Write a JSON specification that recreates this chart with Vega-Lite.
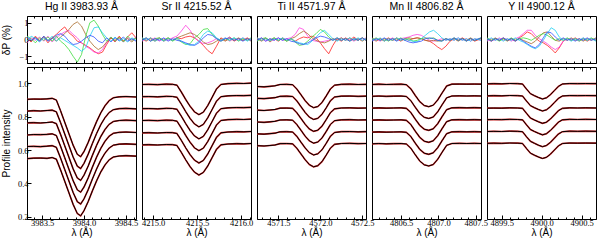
{
"$schema": "https://vega.github.io/schema/vega-lite/v6.json",
"padding": {"left": 1, "top": 1, "right": 0, "bottom": 0},
"background": "white",
"config": {
  "font": "Liberation Sans",
  "view": {"stroke": "black", "strokeWidth": 1},
  "axis": {"domainColor": "black", "tickColor": "black", "labelColor": "black", "titleColor": "black", "tickSize": -4, "labelFontSize": 8.5, "labelFont": "Liberation Sans Narrow", "titleFontSize": 10, "titleFontWeight": "normal", "grid": false, "labelPadding": 3, "labelFlush": false, "labelOverlap": false, "titlePadding": 1},
  "header": {"labelFontSize": 10.5, "labelColor": "black", "labelFont": "Liberation Sans", "labelPadding": 4}
},
"datasets": {
"prof": [
{"n":"Hg","x":3983.32,"a":0.904,"b":0.833,"c":0.763,"d":0.690,"f":0.621,"g":0.548},
{"n":"Hg","x":3983.40,"a":0.906,"b":0.836,"c":0.764,"d":0.693,"f":0.622,"g":0.551},
{"n":"Hg","x":3983.48,"a":0.905,"b":0.834,"c":0.762,"d":0.692,"f":0.620,"g":0.552},
{"n":"Hg","x":3983.56,"a":0.907,"b":0.837,"c":0.765,"d":0.694,"f":0.623,"g":0.550},
{"n":"Hg","x":3983.62,"a":0.910,"b":0.839,"c":0.768,"d":0.697,"f":0.626,"g":0.555},
{"n":"Hg","x":3983.67,"a":0.900,"b":0.829,"c":0.758,"d":0.687,"f":0.616,"g":0.545},
{"n":"Hg","x":3983.72,"a":0.836,"b":0.765,"c":0.694,"d":0.623,"f":0.552,"g":0.481},
{"n":"Hg","x":3983.77,"a":0.767,"b":0.696,"c":0.625,"d":0.554,"f":0.483,"g":0.412},
{"n":"Hg","x":3983.82,"a":0.698,"b":0.627,"c":0.556,"d":0.485,"f":0.414,"g":0.343},
{"n":"Hg","x":3983.87,"a":0.629,"b":0.558,"c":0.487,"d":0.416,"f":0.345,"g":0.274},
{"n":"Hg","x":3983.92,"a":0.574,"b":0.503,"c":0.432,"d":0.361,"f":0.290,"g":0.219},
{"n":"Hg","x":3983.96,"a":0.560,"b":0.489,"c":0.418,"d":0.347,"f":0.276,"g":0.205},
{"n":"Hg","x":3984.00,"a":0.591,"b":0.520,"c":0.449,"d":0.378,"f":0.307,"g":0.236},
{"n":"Hg","x":3984.05,"a":0.646,"b":0.575,"c":0.504,"d":0.433,"f":0.362,"g":0.291},
{"n":"Hg","x":3984.10,"a":0.710,"b":0.639,"c":0.568,"d":0.497,"f":0.426,"g":0.355},
{"n":"Hg","x":3984.15,"a":0.770,"b":0.699,"c":0.628,"d":0.557,"f":0.486,"g":0.415},
{"n":"Hg","x":3984.20,"a":0.823,"b":0.752,"c":0.681,"d":0.610,"f":0.539,"g":0.468},
{"n":"Hg","x":3984.25,"a":0.865,"b":0.794,"c":0.723,"d":0.652,"f":0.581,"g":0.510},
{"n":"Hg","x":3984.30,"a":0.896,"b":0.825,"c":0.754,"d":0.683,"f":0.612,"g":0.541},
{"n":"Hg","x":3984.35,"a":0.913,"b":0.842,"c":0.771,"d":0.700,"f":0.629,"g":0.558},
{"n":"Hg","x":3984.42,"a":0.919,"b":0.848,"c":0.777,"d":0.706,"f":0.635,"g":0.564},
{"n":"Hg","x":3984.50,"a":0.921,"b":0.850,"c":0.779,"d":0.708,"f":0.637,"g":0.566},
{"n":"Hg","x":3984.62,"a":0.918,"b":0.847,"c":0.776,"d":0.705,"f":0.634,"g":0.563},
{"n":"Sr","x":4214.873,"a":0.993,"b":0.920,"c":0.848,"d":0.777,"f":0.703,"g":0.631},
{"n":"Sr","x":4214.95,"a":0.994,"b":0.921,"c":0.849,"d":0.778,"f":0.704,"g":0.632},
{"n":"Sr","x":4215.05,"a":0.992,"b":0.919,"c":0.847,"d":0.776,"f":0.702,"g":0.630},
{"n":"Sr","x":4215.15,"a":0.995,"b":0.922,"c":0.850,"d":0.779,"f":0.705,"g":0.633},
{"n":"Sr","x":4215.22,"a":0.994,"b":0.921,"c":0.849,"d":0.778,"f":0.704,"g":0.632},
{"n":"Sr","x":4215.27,"a":0.989,"b":0.916,"c":0.844,"d":0.773,"f":0.699,"g":0.627},
{"n":"Sr","x":4215.32,"a":0.948,"b":0.875,"c":0.803,"d":0.732,"f":0.658,"g":0.586},
{"n":"Sr","x":4215.37,"a":0.903,"b":0.830,"c":0.758,"d":0.687,"f":0.613,"g":0.541},
{"n":"Sr","x":4215.42,"a":0.862,"b":0.789,"c":0.717,"d":0.646,"f":0.572,"g":0.500},
{"n":"Sr","x":4215.47,"a":0.829,"b":0.756,"c":0.684,"d":0.613,"f":0.539,"g":0.467},
{"n":"Sr","x":4215.52,"a":0.812,"b":0.739,"c":0.667,"d":0.596,"f":0.522,"g":0.450},
{"n":"Sr","x":4215.57,"a":0.827,"b":0.754,"c":0.682,"d":0.611,"f":0.537,"g":0.465},
{"n":"Sr","x":4215.62,"a":0.866,"b":0.793,"c":0.721,"d":0.650,"f":0.576,"g":0.504},
{"n":"Sr","x":4215.67,"a":0.916,"b":0.843,"c":0.771,"d":0.700,"f":0.626,"g":0.554},
{"n":"Sr","x":4215.72,"a":0.966,"b":0.893,"c":0.821,"d":0.750,"f":0.676,"g":0.604},
{"n":"Sr","x":4215.77,"a":0.993,"b":0.920,"c":0.848,"d":0.777,"f":0.703,"g":0.631},
{"n":"Sr","x":4215.85,"a":0.998,"b":0.925,"c":0.853,"d":0.782,"f":0.708,"g":0.636},
{"n":"Sr","x":4215.95,"a":1.000,"b":0.927,"c":0.855,"d":0.784,"f":0.710,"g":0.638},
{"n":"Sr","x":4216.03,"a":0.999,"b":0.926,"c":0.854,"d":0.783,"f":0.709,"g":0.637},
{"n":"Sr","x":4216.112,"a":1.001,"b":0.928,"c":0.856,"d":0.785,"f":0.711,"g":0.639},
{"n":"Ti","x":4571.246,"a":0.981,"b":0.910,"c":0.839,"d":0.768,"f":0.697,"g":0.626},
{"n":"Ti","x":4571.33,"a":0.979,"b":0.908,"c":0.837,"d":0.766,"f":0.695,"g":0.624},
{"n":"Ti","x":4571.40,"a":0.982,"b":0.911,"c":0.840,"d":0.769,"f":0.698,"g":0.627},
{"n":"Ti","x":4571.46,"a":0.985,"b":0.914,"c":0.843,"d":0.772,"f":0.701,"g":0.630},
{"n":"Ti","x":4571.52,"a":0.993,"b":0.922,"c":0.851,"d":0.780,"f":0.709,"g":0.638},
{"n":"Ti","x":4571.60,"a":0.994,"b":0.923,"c":0.852,"d":0.781,"f":0.710,"g":0.639},
{"n":"Ti","x":4571.67,"a":0.992,"b":0.921,"c":0.850,"d":0.779,"f":0.708,"g":0.637},
{"n":"Ti","x":4571.72,"a":0.966,"b":0.895,"c":0.824,"d":0.753,"f":0.682,"g":0.611},
{"n":"Ti","x":4571.77,"a":0.931,"b":0.860,"c":0.789,"d":0.718,"f":0.647,"g":0.576},
{"n":"Ti","x":4571.82,"a":0.896,"b":0.825,"c":0.754,"d":0.683,"f":0.612,"g":0.541},
{"n":"Ti","x":4571.87,"a":0.868,"b":0.797,"c":0.726,"d":0.655,"f":0.584,"g":0.513},
{"n":"Ti","x":4571.92,"a":0.854,"b":0.783,"c":0.712,"d":0.641,"f":0.570,"g":0.499},
{"n":"Ti","x":4571.97,"a":0.861,"b":0.790,"c":0.719,"d":0.648,"f":0.577,"g":0.506},
{"n":"Ti","x":4572.02,"a":0.885,"b":0.814,"c":0.743,"d":0.672,"f":0.601,"g":0.530},
{"n":"Ti","x":4572.07,"a":0.924,"b":0.853,"c":0.782,"d":0.711,"f":0.640,"g":0.569},
{"n":"Ti","x":4572.12,"a":0.966,"b":0.895,"c":0.824,"d":0.753,"f":0.682,"g":0.611},
{"n":"Ti","x":4572.17,"a":0.989,"b":0.918,"c":0.847,"d":0.776,"f":0.705,"g":0.634},
{"n":"Ti","x":4572.25,"a":0.994,"b":0.923,"c":0.852,"d":0.781,"f":0.710,"g":0.639},
{"n":"Ti","x":4572.35,"a":0.995,"b":0.924,"c":0.853,"d":0.782,"f":0.711,"g":0.640},
{"n":"Ti","x":4572.45,"a":0.993,"b":0.922,"c":0.851,"d":0.780,"f":0.709,"g":0.638},
{"n":"Ti","x":4572.544,"a":0.994,"b":0.923,"c":0.852,"d":0.781,"f":0.710,"g":0.639},
{"n":"Mn","x":4806.11,"a":0.993,"b":0.922,"c":0.851,"d":0.779,"f":0.707,"g":0.637},
{"n":"Mn","x":4806.20,"a":0.995,"b":0.924,"c":0.853,"d":0.781,"f":0.709,"g":0.639},
{"n":"Mn","x":4806.30,"a":0.993,"b":0.922,"c":0.851,"d":0.779,"f":0.707,"g":0.637},
{"n":"Mn","x":4806.40,"a":0.994,"b":0.923,"c":0.852,"d":0.780,"f":0.708,"g":0.638},
{"n":"Mn","x":4806.50,"a":0.995,"b":0.924,"c":0.853,"d":0.781,"f":0.709,"g":0.639},
{"n":"Mn","x":4806.57,"a":0.992,"b":0.921,"c":0.850,"d":0.778,"f":0.706,"g":0.636},
{"n":"Mn","x":4806.63,"a":0.967,"b":0.896,"c":0.825,"d":0.753,"f":0.681,"g":0.611},
{"n":"Mn","x":4806.69,"a":0.927,"b":0.856,"c":0.785,"d":0.713,"f":0.641,"g":0.571},
{"n":"Mn","x":4806.75,"a":0.890,"b":0.819,"c":0.748,"d":0.676,"f":0.604,"g":0.534},
{"n":"Mn","x":4806.81,"a":0.867,"b":0.796,"c":0.725,"d":0.653,"f":0.581,"g":0.511},
{"n":"Mn","x":4806.87,"a":0.860,"b":0.789,"c":0.718,"d":0.646,"f":0.574,"g":0.504},
{"n":"Mn","x":4806.93,"a":0.869,"b":0.798,"c":0.727,"d":0.655,"f":0.583,"g":0.513},
{"n":"Mn","x":4806.99,"a":0.900,"b":0.829,"c":0.758,"d":0.686,"f":0.614,"g":0.544},
{"n":"Mn","x":4807.05,"a":0.943,"b":0.872,"c":0.801,"d":0.729,"f":0.657,"g":0.587},
{"n":"Mn","x":4807.11,"a":0.984,"b":0.913,"c":0.842,"d":0.770,"f":0.698,"g":0.628},
{"n":"Mn","x":4807.18,"a":0.995,"b":0.924,"c":0.853,"d":0.781,"f":0.709,"g":0.639},
{"n":"Mn","x":4807.28,"a":0.996,"b":0.925,"c":0.854,"d":0.782,"f":0.710,"g":0.640},
{"n":"Mn","x":4807.38,"a":0.995,"b":0.924,"c":0.853,"d":0.781,"f":0.709,"g":0.639},
{"n":"Mn","x":4807.48,"a":0.996,"b":0.925,"c":0.854,"d":0.782,"f":0.710,"g":0.640},
{"n":"Mn","x":4807.57,"a":0.995,"b":0.924,"c":0.853,"d":0.781,"f":0.709,"g":0.639},
{"n":"Y","x":4899.316,"a":0.997,"b":0.925,"c":0.851,"d":0.782,"f":0.711,"g":0.640},
{"n":"Y","x":4899.40,"a":0.998,"b":0.926,"c":0.852,"d":0.783,"f":0.712,"g":0.641},
{"n":"Y","x":4899.50,"a":0.997,"b":0.925,"c":0.851,"d":0.782,"f":0.711,"g":0.640},
{"n":"Y","x":4899.60,"a":0.999,"b":0.927,"c":0.853,"d":0.784,"f":0.713,"g":0.642},
{"n":"Y","x":4899.70,"a":0.998,"b":0.926,"c":0.852,"d":0.783,"f":0.712,"g":0.641},
{"n":"Y","x":4899.76,"a":0.996,"b":0.924,"c":0.850,"d":0.781,"f":0.710,"g":0.639},
{"n":"Y","x":4899.81,"a":0.966,"b":0.894,"c":0.820,"d":0.751,"f":0.680,"g":0.609},
{"n":"Y","x":4899.86,"a":0.938,"b":0.866,"c":0.792,"d":0.723,"f":0.652,"g":0.581},
{"n":"Y","x":4899.91,"a":0.926,"b":0.854,"c":0.780,"d":0.711,"f":0.640,"g":0.569},
{"n":"Y","x":4899.96,"a":0.915,"b":0.843,"c":0.769,"d":0.700,"f":0.629,"g":0.558},
{"n":"Y","x":4900.01,"a":0.906,"b":0.834,"c":0.760,"d":0.691,"f":0.620,"g":0.549},
{"n":"Y","x":4900.06,"a":0.913,"b":0.841,"c":0.767,"d":0.698,"f":0.627,"g":0.556},
{"n":"Y","x":4900.11,"a":0.932,"b":0.860,"c":0.786,"d":0.717,"f":0.646,"g":0.575},
{"n":"Y","x":4900.16,"a":0.957,"b":0.885,"c":0.811,"d":0.742,"f":0.671,"g":0.600},
{"n":"Y","x":4900.21,"a":0.982,"b":0.910,"c":0.836,"d":0.767,"f":0.696,"g":0.625},
{"n":"Y","x":4900.26,"a":0.996,"b":0.924,"c":0.850,"d":0.781,"f":0.710,"g":0.639},
{"n":"Y","x":4900.35,"a":0.999,"b":0.927,"c":0.853,"d":0.784,"f":0.713,"g":0.642},
{"n":"Y","x":4900.45,"a":0.998,"b":0.926,"c":0.852,"d":0.783,"f":0.712,"g":0.641},
{"n":"Y","x":4900.55,"a":0.999,"b":0.927,"c":0.853,"d":0.784,"f":0.713,"g":0.642},
{"n":"Y","x":4900.68,"a":0.998,"b":0.926,"c":0.852,"d":0.783,"f":0.712,"g":0.641}
],
"dp": [
{"n":"Hg","x":3983.32,"p":0.1,"q":-0.2,"r":0.05,"s":0.2,"t":-0.1,"u":0.15},
{"n":"Hg","x":3983.37,"p":-0.15,"q":0.1,"r":-0.1,"s":0.05,"t":0.2,"u":-0.05},
{"n":"Hg","x":3983.42,"p":0.2,"q":-0.05,"r":0.15,"s":-0.2,"t":0.05,"u":0.1},
{"n":"Hg","x":3983.47,"p":-0.05,"q":0.15,"r":-0.1,"s":0.1,"t":-0.15,"u":-0.1},
{"n":"Hg","x":3983.52,"p":0.15,"q":-0.1,"r":0.2,"s":-0.05,"t":0.1,"u":0.2},
{"n":"Hg","x":3983.57,"p":-0.2,"q":0.2,"r":-0.05,"s":0.15,"t":-0.05,"u":-0.1},
{"n":"Hg","x":3983.62,"p":0.1,"q":-0.15,"r":0.1,"s":-0.1,"t":0.2,"u":0.05},
{"n":"Hg","x":3983.67,"p":0.3,"q":0.1,"r":-0.1,"s":0.2,"t":-0.1,"u":0.25},
{"n":"Hg","x":3983.72,"p":0.55,"q":0.3,"r":0.15,"s":-0.1,"t":0.1,"u":0.35},
{"n":"Hg","x":3983.77,"p":0.75,"q":0.45,"r":0.35,"s":-0.3,"t":-0.05,"u":0.2},
{"n":"Hg","x":3983.82,"p":0.4,"q":0.55,"r":0.6,"s":-0.6,"t":-0.2,"u":-0.1},
{"n":"Hg","x":3983.87,"p":0.2,"q":0.3,"r":0.9,"s":-1.0,"t":-0.35,"u":-0.3},
{"n":"Hg","x":3983.92,"p":-0.1,"q":0.1,"r":1.05,"s":-1.35,"t":-0.5,"u":-0.25},
{"n":"Hg","x":3983.97,"p":-0.2,"q":-0.2,"r":0.8,"s":-0.9,"t":-0.7,"u":-0.1},
{"n":"Hg","x":3984.02,"p":-0.35,"q":-0.4,"r":0.3,"s":0.2,"t":-0.5,"u":0.1},
{"n":"Hg","x":3984.07,"p":-0.5,"q":-0.55,"r":-0.1,"s":1.0,"t":0.2,"u":0.25},
{"n":"Hg","x":3984.12,"p":-0.7,"q":-0.75,"r":-0.4,"s":1.15,"t":0.7,"u":0.15},
{"n":"Hg","x":3984.17,"p":-0.85,"q":-0.8,"r":-0.6,"s":0.8,"t":0.75,"u":-0.1},
{"n":"Hg","x":3984.22,"p":-0.75,"q":-0.6,"r":-0.45,"s":0.3,"t":0.4,"u":-0.2},
{"n":"Hg","x":3984.27,"p":-0.3,"q":-0.2,"r":-0.15,"s":-0.1,"t":0.1,"u":0.1},
{"n":"Hg","x":3984.32,"p":0.1,"q":0.15,"r":0.1,"s":0.15,"t":-0.1,"u":-0.15},
{"n":"Hg","x":3984.37,"p":-0.15,"q":-0.1,"r":-0.05,"s":-0.1,"t":0.15,"u":0.1},
{"n":"Hg","x":3984.42,"p":0.2,"q":0.05,"r":0.15,"s":0.1,"t":-0.1,"u":-0.05},
{"n":"Hg","x":3984.47,"p":-0.1,"q":-0.15,"r":-0.1,"s":-0.15,"t":0.05,"u":0.15},
{"n":"Hg","x":3984.52,"p":0.15,"q":0.1,"r":0.05,"s":0.2,"t":-0.15,"u":-0.1},
{"n":"Hg","x":3984.57,"p":0.4,"q":-0.05,"r":-0.15,"s":-0.05,"t":0.1,"u":0.05},
{"n":"Hg","x":3984.62,"p":0.1,"q":0.15,"r":0.1,"s":0.1,"t":-0.05,"u":-0.1},
{"n":"Sr","x":4214.873,"p":0.05,"q":-0.1,"r":0.1,"s":-0.05,"t":0.1,"u":-0.05},
{"n":"Sr","x":4214.92,"p":-0.1,"q":0.05,"r":-0.05,"s":0.1,"t":-0.05,"u":0.1},
{"n":"Sr","x":4214.97,"p":0.1,"q":-0.05,"r":0.05,"s":-0.1,"t":0.1,"u":-0.1},
{"n":"Sr","x":4215.02,"p":-0.05,"q":0.1,"r":-0.1,"s":0.05,"t":-0.1,"u":0.05},
{"n":"Sr","x":4215.07,"p":0.1,"q":-0.1,"r":0.05,"s":0.1,"t":0.05,"u":-0.05},
{"n":"Sr","x":4215.12,"p":-0.1,"q":0.05,"r":-0.05,"s":-0.05,"t":-0.1,"u":0.1},
{"n":"Sr","x":4215.17,"p":0.05,"q":-0.05,"r":0.1,"s":0.1,"t":0.05,"u":-0.1},
{"n":"Sr","x":4215.22,"p":-0.05,"q":0.1,"r":-0.05,"s":-0.1,"t":-0.05,"u":0.05},
{"n":"Sr","x":4215.27,"p":0.1,"q":0.2,"r":0.1,"s":0.05,"t":0.1,"u":-0.05},
{"n":"Sr","x":4215.32,"p":0.05,"q":0.5,"r":0.2,"s":-0.15,"t":-0.1,"u":-0.1},
{"n":"Sr","x":4215.37,"p":0.15,"q":0.85,"r":0.3,"s":-0.3,"t":-0.25,"u":-0.2},
{"n":"Sr","x":4215.42,"p":0.2,"q":0.55,"r":0.4,"s":-0.25,"t":-0.35,"u":-0.3},
{"n":"Sr","x":4215.47,"p":0.1,"q":0.1,"r":0.3,"s":0.1,"t":-0.3,"u":-0.35},
{"n":"Sr","x":4215.52,"p":-0.1,"q":-0.1,"r":0.1,"s":0.3,"t":-0.1,"u":-0.2},
{"n":"Sr","x":4215.57,"p":-0.35,"q":-0.25,"r":-0.15,"s":0.6,"t":0.3,"u":0.1},
{"n":"Sr","x":4215.62,"p":-0.65,"q":-0.2,"r":-0.3,"s":0.65,"t":0.5,"u":0.3},
{"n":"Sr","x":4215.67,"p":-0.85,"q":-0.1,"r":-0.25,"s":0.3,"t":0.4,"u":0.25},
{"n":"Sr","x":4215.72,"p":-0.4,"q":0.05,"r":-0.1,"s":0.05,"t":0.1,"u":0.05},
{"n":"Sr","x":4215.77,"p":0.1,"q":-0.05,"r":0.05,"s":-0.1,"t":-0.05,"u":-0.1},
{"n":"Sr","x":4215.82,"p":-0.05,"q":0.1,"r":-0.1,"s":0.05,"t":0.1,"u":0.05},
{"n":"Sr","x":4215.87,"p":0.15,"q":-0.1,"r":0.05,"s":-0.05,"t":-0.05,"u":0.1},
{"n":"Sr","x":4215.92,"p":-0.1,"q":0.05,"r":-0.05,"s":0.1,"t":0.1,"u":-0.05},
{"n":"Sr","x":4215.97,"p":0.05,"q":-0.05,"r":0.1,"s":-0.1,"t":-0.05,"u":0.05},
{"n":"Sr","x":4216.02,"p":-0.05,"q":0.1,"r":-0.05,"s":0.05,"t":0.1,"u":-0.1},
{"n":"Sr","x":4216.07,"p":0.1,"q":-0.05,"r":0.05,"s":-0.05,"t":-0.1,"u":0.05},
{"n":"Sr","x":4216.112,"p":-0.05,"q":0.05,"r":-0.1,"s":0.1,"t":0.05,"u":-0.05},
{"n":"Ti","x":4571.246,"p":0.1,"q":-0.05,"r":0.05,"s":-0.1,"t":0.1,"u":-0.05},
{"n":"Ti","x":4571.30,"p":-0.05,"q":0.1,"r":-0.1,"s":0.05,"t":-0.05,"u":0.1},
{"n":"Ti","x":4571.35,"p":0.1,"q":-0.1,"r":0.05,"s":0.1,"t":0.05,"u":-0.1},
{"n":"Ti","x":4571.40,"p":-0.15,"q":0.05,"r":-0.05,"s":-0.05,"t":-0.1,"u":0.05},
{"n":"Ti","x":4571.45,"p":0.05,"q":-0.05,"r":0.1,"s":0.1,"t":0.05,"u":-0.05},
{"n":"Ti","x":4571.50,"p":-0.1,"q":0.1,"r":-0.05,"s":-0.05,"t":-0.05,"u":0.1},
{"n":"Ti","x":4571.55,"p":0.1,"q":-0.05,"r":0.05,"s":0.05,"t":0.1,"u":-0.05},
{"n":"Ti","x":4571.60,"p":-0.05,"q":0.05,"r":-0.1,"s":-0.1,"t":-0.05,"u":0.05},
{"n":"Ti","x":4571.65,"p":0.05,"q":0.1,"r":0.05,"s":0.05,"t":0.05,"u":-0.1},
{"n":"Ti","x":4571.70,"p":-0.1,"q":0.3,"r":0.15,"s":-0.15,"t":-0.1,"u":-0.15},
{"n":"Ti","x":4571.75,"p":0.05,"q":0.7,"r":0.35,"s":-0.35,"t":-0.2,"u":-0.25},
{"n":"Ti","x":4571.80,"p":0.15,"q":0.6,"r":0.5,"s":-0.3,"t":-0.25,"u":-0.3},
{"n":"Ti","x":4571.85,"p":0.1,"q":0.2,"r":0.35,"s":-0.1,"t":-0.3,"u":-0.2},
{"n":"Ti","x":4571.90,"p":0.2,"q":-0.05,"r":0.1,"s":0.15,"t":-0.1,"u":-0.05},
{"n":"Ti","x":4571.95,"p":0.1,"q":-0.1,"r":-0.05,"s":0.35,"t":0.15,"u":0.1},
{"n":"Ti","x":4572.00,"p":-0.2,"q":-0.15,"r":-0.15,"s":0.6,"t":0.4,"u":0.2},
{"n":"Ti","x":4572.05,"p":-0.55,"q":-0.1,"r":-0.2,"s":0.45,"t":0.55,"u":0.15},
{"n":"Ti","x":4572.10,"p":-0.85,"q":-0.05,"r":-0.1,"s":0.15,"t":0.3,"u":0.05},
{"n":"Ti","x":4572.15,"p":-0.35,"q":0.05,"r":0.05,"s":-0.05,"t":0.05,"u":-0.05},
{"n":"Ti","x":4572.20,"p":0.05,"q":-0.05,"r":-0.05,"s":0.1,"t":-0.1,"u":0.1},
{"n":"Ti","x":4572.25,"p":-0.1,"q":0.1,"r":0.1,"s":-0.05,"t":0.05,"u":-0.05},
{"n":"Ti","x":4572.30,"p":0.1,"q":-0.05,"r":-0.05,"s":0.05,"t":-0.05,"u":0.05},
{"n":"Ti","x":4572.35,"p":-0.05,"q":0.05,"r":0.1,"s":-0.1,"t":0.1,"u":-0.1},
{"n":"Ti","x":4572.40,"p":0.15,"q":-0.1,"r":-0.05,"s":0.05,"t":-0.05,"u":0.05},
{"n":"Ti","x":4572.45,"p":-0.05,"q":0.05,"r":0.05,"s":-0.05,"t":0.1,"u":-0.05},
{"n":"Ti","x":4572.50,"p":0.1,"q":-0.05,"r":-0.1,"s":0.1,"t":-0.05,"u":0.1},
{"n":"Ti","x":4572.544,"p":-0.05,"q":0.1,"r":0.05,"s":-0.05,"t":0.05,"u":-0.05},
{"n":"Mn","x":4806.11,"p":0.05,"q":-0.05,"r":0.1,"s":-0.05,"t":0.05,"u":-0.1},
{"n":"Mn","x":4806.165,"p":-0.1,"q":0.05,"r":-0.05,"s":0.1,"t":-0.05,"u":0.05},
{"n":"Mn","x":4806.22,"p":0.05,"q":-0.1,"r":0.05,"s":-0.05,"t":0.1,"u":-0.05},
{"n":"Mn","x":4806.275,"p":-0.05,"q":0.05,"r":-0.1,"s":0.05,"t":-0.1,"u":0.1},
{"n":"Mn","x":4806.33,"p":0.1,"q":-0.05,"r":0.05,"s":-0.1,"t":0.05,"u":-0.05},
{"n":"Mn","x":4806.385,"p":-0.05,"q":0.1,"r":-0.05,"s":0.05,"t":-0.05,"u":0.05},
{"n":"Mn","x":4806.44,"p":0.05,"q":-0.05,"r":0.1,"s":-0.05,"t":0.1,"u":-0.1},
{"n":"Mn","x":4806.495,"p":-0.1,"q":0.05,"r":-0.05,"s":0.1,"t":-0.05,"u":0.05},
{"n":"Mn","x":4806.55,"p":0.05,"q":0.1,"r":0.05,"s":-0.05,"t":0.05,"u":-0.05},
{"n":"Mn","x":4806.605,"p":-0.05,"q":0.15,"r":0.1,"s":0.05,"t":-0.05,"u":-0.15},
{"n":"Mn","x":4806.66,"p":0.05,"q":0.25,"r":0.05,"s":-0.1,"t":-0.1,"u":-0.2},
{"n":"Mn","x":4806.715,"p":0.1,"q":0.3,"r":0.1,"s":-0.05,"t":-0.15,"u":-0.15},
{"n":"Mn","x":4806.77,"p":0.05,"q":0.25,"r":0.05,"s":0.05,"t":0.05,"u":-0.1},
{"n":"Mn","x":4806.825,"p":-0.05,"q":0.1,"r":-0.05,"s":0.1,"t":0.25,"u":0.05},
{"n":"Mn","x":4806.88,"p":-0.1,"q":-0.05,"r":-0.1,"s":0.05,"t":0.45,"u":0.1},
{"n":"Mn","x":4806.935,"p":-0.25,"q":-0.1,"r":-0.05,"s":0.1,"t":0.55,"u":0.05},
{"n":"Mn","x":4806.99,"p":-0.45,"q":-0.05,"r":-0.1,"s":-0.05,"t":0.35,"u":-0.05},
{"n":"Mn","x":4807.045,"p":-0.6,"q":0.05,"r":-0.05,"s":-0.1,"t":0.1,"u":-0.1},
{"n":"Mn","x":4807.10,"p":-0.4,"q":-0.05,"r":0.05,"s":0.05,"t":-0.05,"u":0.05},
{"n":"Mn","x":4807.155,"p":-0.1,"q":0.05,"r":-0.05,"s":-0.05,"t":0.05,"u":-0.05},
{"n":"Mn","x":4807.21,"p":0.05,"q":-0.05,"r":0.05,"s":0.1,"t":-0.05,"u":0.1},
{"n":"Mn","x":4807.265,"p":-0.05,"q":0.1,"r":-0.1,"s":-0.05,"t":0.1,"u":-0.05},
{"n":"Mn","x":4807.32,"p":0.1,"q":-0.05,"r":0.05,"s":0.05,"t":-0.05,"u":0.05},
{"n":"Mn","x":4807.375,"p":-0.05,"q":0.05,"r":-0.05,"s":-0.1,"t":0.05,"u":-0.1},
{"n":"Mn","x":4807.43,"p":0.05,"q":-0.1,"r":0.1,"s":0.05,"t":-0.1,"u":0.05},
{"n":"Mn","x":4807.485,"p":-0.1,"q":0.05,"r":-0.05,"s":-0.05,"t":0.05,"u":-0.05},
{"n":"Mn","x":4807.57,"p":0.05,"q":-0.05,"r":0.05,"s":0.1,"t":-0.05,"u":0.1},
{"n":"Y","x":4899.316,"p":0.05,"q":-0.1,"r":0.05,"s":0.1,"t":-0.05,"u":0.05},
{"n":"Y","x":4899.37,"p":-0.1,"q":0.05,"r":-0.05,"s":-0.05,"t":0.1,"u":-0.1},
{"n":"Y","x":4899.42,"p":0.05,"q":-0.05,"r":0.1,"s":0.05,"t":-0.05,"u":0.05},
{"n":"Y","x":4899.47,"p":-0.05,"q":0.1,"r":-0.05,"s":-0.1,"t":0.05,"u":-0.05},
{"n":"Y","x":4899.52,"p":0.1,"q":-0.05,"r":0.05,"s":0.05,"t":-0.1,"u":0.1},
{"n":"Y","x":4899.57,"p":-0.05,"q":0.05,"r":-0.1,"s":-0.05,"t":0.05,"u":-0.05},
{"n":"Y","x":4899.62,"p":0.05,"q":-0.1,"r":0.05,"s":0.1,"t":-0.05,"u":0.05},
{"n":"Y","x":4899.67,"p":-0.1,"q":0.05,"r":-0.05,"s":-0.05,"t":0.1,"u":-0.1},
{"n":"Y","x":4899.72,"p":0.1,"q":0.15,"r":0.05,"s":0.05,"t":-0.05,"u":0.05},
{"n":"Y","x":4899.77,"p":0.25,"q":0.35,"r":-0.05,"s":0.1,"t":-0.15,"u":-0.1},
{"n":"Y","x":4899.82,"p":0.45,"q":0.55,"r":-0.15,"s":0.05,"t":-0.3,"u":-0.25},
{"n":"Y","x":4899.87,"p":0.35,"q":0.55,"r":-0.25,"s":-0.05,"t":-0.45,"u":-0.4},
{"n":"Y","x":4899.92,"p":0.1,"q":0.25,"r":-0.1,"s":0.1,"t":-0.55,"u":-0.5},
{"n":"Y","x":4899.97,"p":-0.1,"q":0.05,"r":0.15,"s":0.25,"t":-0.4,"u":-0.3},
{"n":"Y","x":4900.02,"p":-0.2,"q":-0.1,"r":0.4,"s":0.35,"t":-0.05,"u":0.1},
{"n":"Y","x":4900.07,"p":-0.35,"q":-0.25,"r":0.45,"s":0.25,"t":0.35,"u":0.45},
{"n":"Y","x":4900.12,"p":-0.55,"q":-0.45,"r":0.2,"s":0.1,"t":0.7,"u":0.4},
{"n":"Y","x":4900.17,"p":-0.8,"q":-0.6,"r":-0.05,"s":-0.05,"t":0.55,"u":0.15},
{"n":"Y","x":4900.22,"p":-0.5,"q":-0.45,"r":-0.1,"s":0.05,"t":0.15,"u":-0.05},
{"n":"Y","x":4900.27,"p":-0.1,"q":-0.1,"r":0.05,"s":-0.05,"t":-0.05,"u":0.1},
{"n":"Y","x":4900.32,"p":0.05,"q":0.05,"r":-0.05,"s":0.1,"t":0.05,"u":-0.05},
{"n":"Y","x":4900.37,"p":-0.05,"q":-0.05,"r":0.1,"s":-0.05,"t":-0.1,"u":0.05},
{"n":"Y","x":4900.42,"p":0.1,"q":0.05,"r":-0.05,"s":0.05,"t":0.05,"u":-0.1},
{"n":"Y","x":4900.47,"p":-0.05,"q":-0.1,"r":0.05,"s":-0.1,"t":-0.05,"u":0.05},
{"n":"Y","x":4900.52,"p":0.05,"q":0.1,"r":-0.1,"s":0.05,"t":0.1,"u":-0.05},
{"n":"Y","x":4900.57,"p":-0.1,"q":-0.05,"r":0.05,"s":-0.05,"t":-0.05,"u":0.1},
{"n":"Y","x":4900.62,"p":0.05,"q":0.05,"r":-0.05,"s":0.1,"t":0.05,"u":-0.05},
{"n":"Y","x":4900.68,"p":-0.05,"q":-0.05,"r":0.1,"s":-0.05,"t":-0.1,"u":0.05}
]
},
"spacing": 2,
"vconcat": [
{
  "data": {"name": "dp"},
  "transform": [{"fold": ["p","q","r","s","t","u"], "as": ["k","v"]}],
  "facet": {"column": {"field": "n", "type": "nominal", "sort": ["Hg","Sr","Ti","Mn","Y"], "title": null,
    "header": {"labelExpr": "datum.value == 'Hg' ? 'Hg II 3983.93 Å' : datum.value == 'Sr' ? 'Sr II 4215.52 Å' : datum.value == 'Ti' ? 'Ti II 4571.97 Å' : datum.value == 'Mn' ? 'Mn II 4806.82 Å' : 'Y II 4900.12 Å'"}}},
  "spacing": {"column": 6},
  "bounds": "flush",
  "resolve": {"scale": {"x": "independent"}},
  "spec": {
    "width": 109, "height": 47,
    "encoding": {
      "y": {"field": "v", "type": "quantitative", "scale": {"domain": [-1.4, 1.4]}, "axis": {"values": [-1, 0, 1], "format": "d", "title": "δP (%)", "minExtent": 15, "maxExtent": 15}},
      "color": {"field": "k", "type": "nominal", "scale": {"domain": ["p","q","r","s","t","u"], "range": ["#ff2020", "#ff40e0", "#a86a28", "#3cdc3c", "#20d0f0", "#3050ff"]}, "legend": null}
    },
    "layer": [
      {"mark": {"type": "line", "strokeWidth": 0.8, "clip": true},
       "encoding": {"x": {"field": "x", "type": "quantitative", "scale": {"zero": false, "nice": false}, "axis": {"labels": false, "title": null, "tickCount": 3}}}},
      {"mark": {"type": "line", "opacity": 0},
       "encoding": {"x": {"field": "x", "type": "quantitative", "scale": {"zero": false, "nice": false}, "axis": {"orient": "top", "labels": false, "title": null, "tickCount": 3, "domain": false}}}},
      {"mark": {"type": "line", "opacity": 0},
       "encoding": {"x": {"field": "x", "type": "quantitative", "scale": {"zero": false, "nice": false}, "axis": {"orient": "bottom", "labels": false, "title": null, "tickCount": 13, "tickSize": -2, "domain": false}}}},
      {"mark": {"type": "line", "opacity": 0},
       "encoding": {"x": {"field": "x", "type": "quantitative", "scale": {"zero": false, "nice": false}, "axis": {"orient": "top", "labels": false, "title": null, "tickCount": 13, "tickSize": -2, "domain": false}}}}
    ],
    "resolve": {"axis": {"x": "independent"}}
  }
},
{
  "data": {"name": "prof"},
  "transform": [{"fold": ["a","b","c","d","f","g"], "as": ["k","v"]}],
  "facet": {"column": {"field": "n", "type": "nominal", "sort": ["Hg","Sr","Ti","Mn","Y"], "title": null, "header": {"labels": false}}},
  "spacing": {"column": 6},
  "bounds": "flush",
  "resolve": {"scale": {"x": "independent"}},
  "spec": {
    "width": 109, "height": 152,
    "encoding": {
      "y": {"field": "v", "type": "quantitative", "scale": {"domain": [0.186, 1.098]}, "axis": {"values": [0.2, 0.4, 0.6, 0.8, 1.0], "format": ".1f", "title": "Profile intensity", "minExtent": 15, "maxExtent": 15}},
      "detail": {"field": "k", "type": "nominal"}
    },
    "layer": [
      {"mark": {"type": "line", "color": "#d02020", "strokeWidth": 1.6},
       "encoding": {"x": {"field": "x", "type": "quantitative", "scale": {"zero": false, "nice": false}, "axis": {"title": "λ (Å)", "format": ".1f", "tickCount": 3, "titlePadding": 1}}}},
      {"mark": {"type": "line", "color": "black", "strokeWidth": 1},
       "encoding": {"x": {"field": "x", "type": "quantitative", "scale": {"zero": false, "nice": false}, "axis": null}}},
      {"mark": {"type": "line", "opacity": 0},
       "encoding": {"x": {"field": "x", "type": "quantitative", "scale": {"zero": false, "nice": false}, "axis": {"orient": "top", "labels": false, "title": null, "tickCount": 3, "domain": false}}}},
      {"mark": {"type": "line", "opacity": 0},
       "encoding": {"x": {"field": "x", "type": "quantitative", "scale": {"zero": false, "nice": false}, "axis": {"orient": "bottom", "labels": false, "title": null, "tickCount": 13, "tickSize": -2, "domain": false}}}},
      {"mark": {"type": "line", "opacity": 0},
       "encoding": {"x": {"field": "x", "type": "quantitative", "scale": {"zero": false, "nice": false}, "axis": {"orient": "top", "labels": false, "title": null, "tickCount": 13, "tickSize": -2, "domain": false}}}}
    ],
    "resolve": {"axis": {"x": "independent"}}
  }
}
]
}
